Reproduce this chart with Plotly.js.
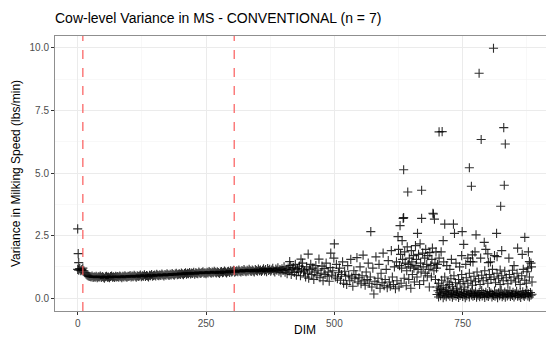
<!DOCTYPE html>
<html>
<head>
<meta charset="utf-8">
<script src="https://cdn.plot.ly/plotly-3.0.1.min.js"></script>
<style>html,body{margin:0;padding:0;background:#fff;}#chart{width:546px;height:338px;}</style>
</head>
<body>
<div id="chart"></div>
<script>
// Main band: one value every 2 DIM, from DIM 0 to 440
const bandStartDim = 0;
const bandStepDim = 2;
const bandVar = [
1.15,1.12,1.18,1.10,1.14,1.20,1.10,1.02,0.97,0.93,
0.90,0.88,0.87,0.85,0.89,0.83,0.86,0.84,0.88,0.82,
0.86,0.85,0.89,0.83,0.87,0.84,0.80,0.86,0.88,0.84,
0.85,0.82,0.87,0.89,0.84,0.86,0.83,0.88,0.85,0.87,
0.84,0.89,0.86,0.82,0.88,0.85,0.90,0.86,0.84,0.88,
0.87,0.91,0.85,0.89,0.86,0.92,0.88,0.84,0.90,0.87,
0.89,0.93,0.86,0.90,0.88,0.94,0.87,0.91,0.89,0.85,
0.92,0.90,0.95,0.88,0.91,0.93,0.89,0.96,0.92,0.90,
0.94,0.91,0.97,0.93,0.89,0.95,0.92,0.98,0.94,0.91,
0.96,0.93,0.99,0.95,0.92,0.97,1.00,0.94,0.96,0.98,
0.95,1.01,0.97,0.94,0.99,1.02,0.96,1.00,0.98,1.03,
0.97,1.01,0.99,1.04,0.96,1.02,1.00,0.98,1.05,1.01,
0.99,1.03,1.06,1.00,1.02,0.98,1.04,1.01,1.07,1.03,
1.00,1.05,1.02,1.08,1.04,1.01,1.06,1.03,0.99,1.05,
1.07,1.02,1.04,1.09,1.05,1.01,1.06,1.08,1.03,1.10,
1.05,1.08,1.12,1.04,1.07,1.10,1.06,1.13,1.08,1.05,
1.11,1.07,1.14,1.09,1.06,1.12,1.08,1.15,1.10,1.07,
1.13,1.09,1.05,1.14,1.11,1.08,1.16,1.10,1.13,1.07,
1.12,1.17,1.09,1.14,1.06,1.18,1.11,1.15,1.08,1.13,
1.19,1.10,1.05,1.16,1.12,1.21,1.08,1.14,1.02,1.17,
1.11,1.25,1.04,1.15,0.98,1.20,1.09,1.30,0.95,1.14,
1.22,1.03,1.35,0.92,1.18,1.08,1.28,0.90,1.16,1.40,
1.05
];

// Scattered points (early outliers and later lactation)
const scatterDim = [
0,1,2,413,435,
442,444,446,448,449,450,452,454,456,458,460,462,464,466,468,470,472,474,476,478,480,482,484,486,488,490,492,493,495,497,499,500,502,504,506,508,510,512,514,516,518,520,
522,524,526,528,530,532,534,536,538,540,542,544,546,548,550,552,554,556,558,560,562,564,566,568,570,571,573,575,577,579,581,583,585,587,589,591,593,595,597,599,601,603,605,607,609,611,613,615,617,619,
621,622,624,625,626,627,628,629,630,631,632,633,634,635,635,636,637,638,640,641,642,643,644,645,646,648,649,650,651,652,654,655,656,658,659,660,661,662,663,664,666,667,668,669,670,670,672,673,674,676,677,678,680,681,682,684,685,686,688,689,690,691,692,693,694,695,696,697,698,699,
704,710,715,712,732,734,749,752,763,765,767,769,776,782,786,792,799,800,810,816,817,823,824,830,831,833,850,857,871,875,880,
700,702,703,705,707,708,710,712,713,715,717,718,720,722,723,725,727,728,730,732,733,735,737,738,740,742,743,745,747,748,750,752,753,755,757,758,760,762,763,765,767,768,770,772,773,775,777,778,780,782,783,785,787,788,790,792,793,795,797,798,800,802,803,805,807,808,810,812,813,815,817,818,820,822,823,825,827,828,830,832,833,835,837,838,840,842,843,845,847,848,850,852,853,855,857,858,860,862,863,865,867,868,870,872,873,875,877,878,880,882,883,885,
700,703,706,709,712,715,718,721,724,727,730,733,736,739,742,745,748,751,754,757,760,763,766,769,772,775,778,781,784,787,790,793,796,799,802,805,808,811,814,817,820,823,826,829,832,835,838,841,844,847,850,853,856,859,862,865,868,871,874,877,880,883,885,
701,704,708,713,719,725,728,737,744,748,756,760,770,774,785,795,804,812,826,840,866,878,884
];
const scatterVar = [
2.77,1.78,1.42,1.46,1.56,
1.10,0.85,1.25,1.00,1.76,0.80,1.15,1.35,0.95,1.20,0.75,1.05,1.30,0.90,1.12,1.56,0.82,1.00,1.28,0.70,1.18,0.95,1.40,0.88,1.05,0.68,1.22,1.80,0.92,1.10,1.60,2.17,0.85,1.35,0.78,1.02,1.20,0.72,0.95,1.45,0.60,1.08,
0.88,0.55,1.30,0.92,0.70,1.55,0.85,0.48,1.10,0.78,0.95,1.62,0.65,0.82,1.25,0.58,0.90,1.72,0.70,0.52,1.05,0.75,1.40,0.60,0.85,2.66,0.45,1.20,0.17,0.68,1.65,0.55,0.80,1.35,0.40,1.00,0.62,1.80,0.50,0.75,1.15,0.42,1.50,0.65,0.48,1.90,0.85,0.55,1.25,0.38,
1.45,0.70,2.46,1.95,0.45,1.30,2.90,1.75,0.60,1.20,2.30,1.55,3.19,3.22,5.13,0.80,1.85,1.40,0.50,1.10,2.05,4.24,1.35,0.75,1.60,1.25,0.40,1.90,1.45,0.95,1.70,1.20,0.65,2.10,1.30,1.55,0.85,2.59,1.15,1.75,0.55,2.17,1.40,1.05,3.19,4.31,1.80,1.25,0.70,1.60,1.00,1.95,1.35,0.90,1.70,1.15,0.45,1.82,1.30,0.85,1.55,2.00,3.39,3.36,1.10,3.16,1.40,0.75,1.85,1.20,
6.64,6.65,2.96,2.30,2.96,2.59,2.66,2.15,5.21,1.46,4.47,1.73,2.53,8.98,6.34,2.23,1.77,1.42,9.98,2.59,1.66,1.13,3.67,6.81,4.51,6.16,1.30,2.00,2.43,1.06,1.46,
0.15,0.30,0.05,0.22,0.10,0.35,0.18,0.02,0.25,0.12,0.28,0.06,0.20,0.14,0.32,0.08,0.24,0.16,0.04,0.30,0.12,0.20,0.09,0.26,0.15,0.03,0.22,0.11,0.34,0.18,0.07,0.25,0.14,0.02,0.20,0.10,0.28,0.16,0.05,0.22,0.13,0.30,0.08,0.19,0.11,0.26,0.04,0.17,0.12,0.23,0.06,0.15,0.31,0.09,0.20,0.13,0.03,0.24,0.10,0.18,0.07,0.27,0.14,0.21,0.05,0.16,0.11,0.29,0.08,0.19,0.13,0.02,0.22,0.10,0.17,0.33,0.06,0.15,0.12,0.25,0.04,0.18,0.09,0.21,0.14,0.30,0.07,0.16,0.11,0.24,0.05,0.19,0.13,0.28,0.08,0.17,0.10,0.22,0.03,0.15,0.26,0.12,0.07,0.20,0.14,0.31,0.09,0.18,0.05,0.23,0.12,0.16,
0.45,0.60,0.38,0.72,0.50,0.85,0.42,0.65,0.55,0.78,0.48,0.90,0.62,0.40,0.75,0.58,0.95,0.68,0.45,0.82,0.60,1.00,0.72,0.52,0.88,0.66,1.05,0.78,0.55,0.92,0.70,1.10,0.82,0.60,0.95,0.75,1.15,0.85,0.62,1.00,0.78,0.55,0.90,0.70,1.08,0.82,0.58,0.95,0.72,1.12,0.85,0.65,1.00,0.78,0.55,0.90,1.15,0.72,0.60,1.20,0.85,1.40,0.65,
1.35,1.60,1.85,1.45,1.30,1.15,1.55,1.40,1.25,1.70,1.35,1.60,1.45,1.85,1.60,1.95,1.45,1.70,1.90,1.60,1.75,1.85,1.25
];

// Reference lines (DIM)
const refLineDims = [10, 305];

const xTicks = [0, 250, 500, 750];
const xTickText = ['0', '250', '500', '750'];
const yTicks = [0, 2.5, 5, 7.5, 10];
const yTickText = ['0.0', '2.5', '5.0', '7.5', '10.0'];

const markerStyle = {
  symbol: 'cross-thin-open',
  size: 6.5,
  color: 'rgba(0,0,0,0.82)',
  line: {color: 'rgba(0,0,0,0.82)', width: 1.1}
};

const traces = [
  {type: 'scatter', mode: 'markers', x0: bandStartDim, dx: bandStepDim, y: bandVar,
   marker: markerStyle, hoverinfo: 'x+y', showlegend: false},
  {type: 'scatter', mode: 'markers', x: scatterDim, y: scatterVar,
   marker: markerStyle, hoverinfo: 'x+y', showlegend: false}
];

const shapes = refLineDims.map(d => ({
  type: 'line', xref: 'x', yref: 'paper', x0: d, x1: d, y0: 0, y1: 1,
  line: {color: 'rgba(250,90,90,0.8)', width: 1.5, dash: 'dash'}
}));

const layout = {
  width: 546, height: 338,
  margin: {l: 55, r: 0, t: 36, b: 27},
  paper_bgcolor: '#ffffff',
  plot_bgcolor: '#ffffff',
  font: {family: 'Liberation Sans, Arial, sans-serif', color: '#000'},
  title: {text: 'Cow-level Variance in MS - CONVENTIONAL (n = 7)',
          font: {size: 14, color: '#000'},
          x: 0, xanchor: 'left', xref: 'paper',
          y: 23, yref: 'container', yanchor: 'middle'},
  xaxis: {
    range: [-44.2, 912.3],
    tickvals: xTicks, ticktext: xTickText,
    ticks: 'outside', ticklen: 3, tickcolor: '#333', tickwidth: 1,
    tickfont: {size: 10, color: '#4d4d4d'},
    showgrid: true, gridcolor: '#ebebeb', gridwidth: 1,
    minor: {dtick: 125, tick0: 125, showgrid: true, gridcolor: '#f4f4f4', gridwidth: 0.6, ticks: ''},
    showline: true, linecolor: 'rgba(51,51,51,0.55)', linewidth: 1, mirror: true,
    zeroline: false
  },
  yaxis: {
    range: [-0.51, 10.47],
    tickvals: yTicks, ticktext: yTickText,
    ticks: 'outside', ticklen: 3, tickcolor: '#333', tickwidth: 1,
    tickfont: {size: 10, color: '#4d4d4d'},
    showgrid: true, gridcolor: '#ebebeb', gridwidth: 1,
    minor: {dtick: 1.25, tick0: 1.25, showgrid: true, gridcolor: '#f4f4f4', gridwidth: 0.6, ticks: ''},
    showline: true, linecolor: 'rgba(51,51,51,0.55)', linewidth: 1, mirror: true,
    zeroline: false,
    title: {text: 'Variance in Milking Speed (lbs/min)', font: {size: 12, color: '#000'}, standoff: 6}
  },
  annotations: [{
    text: 'DIM', xref: 'paper', yref: 'paper', x: 0.509, y: 0,
    xanchor: 'center', yanchor: 'top', yshift: -11, borderpad: 0, showarrow: false,
    font: {size: 12, color: '#000'}
  }],
  shapes: shapes
};

Plotly.newPlot('chart', traces, layout, {displayModeBar: false, staticPlot: true});
</script>
</body>
</html>
